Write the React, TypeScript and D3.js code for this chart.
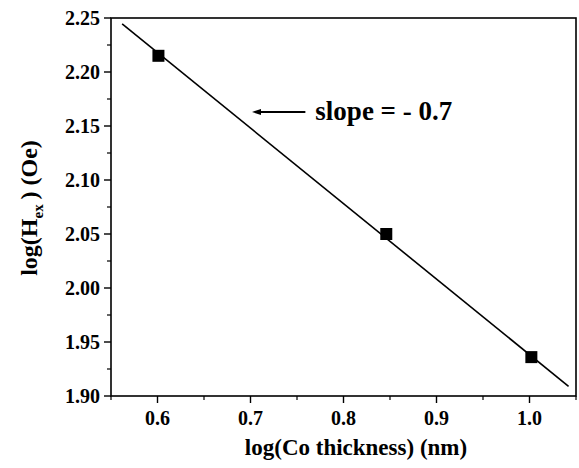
import React from "react";
import * as d3 from "d3";

const xValues = [0.601, 0.846, 1.002];
const yValues = [2.215, 2.05, 1.936];
const fitLine = [
  { x: 0.562, y: 2.2445 },
  { x: 1.042, y: 1.909 },
];
const xTicks = [0.6, 0.7, 0.8, 0.9, 1.0];
const yTicks = [1.9, 1.95, 2.0, 2.05, 2.1, 2.15, 2.2, 2.25];
const xMinor = [0.55, 0.65, 0.75, 0.85, 0.95, 1.05];
const yMinor = [1.925, 1.975, 2.025, 2.075, 2.125, 2.175, 2.225];

const W = 579;
const H = 468;
const M = { left: 111, top: 18, right: 576, bottom: 396 };
const FONT = "Times New Roman, Times, Liberation Serif, DejaVu Serif, serif";

export default function App() {
  const x = d3.scaleLinear().domain([0.55, 1.05]).range([M.left, M.right]);
  const y = d3.scaleLinear().domain([1.9, 2.25]).range([M.bottom, M.top]);
  const line = d3
    .line<{ x: number; y: number }>()
    .x((d) => x(d.x))
    .y((d) => y(d.y));

  const arrowTipX = x(0.7016);
  const arrowTailX = x(0.759);
  const arrowY = y(2.163);
  const sz = 12;
  const ts = { fontFamily: FONT, fontWeight: 700 } as React.CSSProperties;

  return (
    <svg
      width={W}
      height={H}
      style={{ position: "absolute", left: 0, top: 0, background: "#fff", fontFamily: FONT }}
    >
      <rect x={0} y={0} width={W} height={H} fill="#fff" />
      <rect
        x={M.left}
        y={M.top}
        width={M.right - M.left}
        height={M.bottom - M.top}
        fill="none"
        stroke="#000"
        strokeWidth={1.6}
      />
      {xTicks.map((t) => (
        <g key={"xt" + t}>
          <line x1={x(t)} x2={x(t)} y1={M.bottom} y2={M.bottom + 7} stroke="#000" strokeWidth={1.4} />
          <text x={x(t)} y={M.bottom + 29} textAnchor="middle" style={{ ...ts, fontSize: 20 }}>
            {t.toFixed(1)}
          </text>
        </g>
      ))}
      {xMinor.map((t) => (
        <line key={"xm" + t} x1={x(t)} x2={x(t)} y1={M.bottom} y2={M.bottom + 4} stroke="#000" strokeWidth={1.2} />
      ))}
      {yTicks.map((t) => (
        <g key={"yt" + t}>
          <line x1={M.left - 7} x2={M.left} y1={y(t)} y2={y(t)} stroke="#000" strokeWidth={1.4} />
          <text x={M.left - 11} y={y(t) + 7} textAnchor="end" style={{ ...ts, fontSize: 20 }}>
            {t.toFixed(2)}
          </text>
        </g>
      ))}
      {yMinor.map((t) => (
        <line key={"ym" + t} x1={M.left - 4} x2={M.left} y1={y(t)} y2={y(t)} stroke="#000" strokeWidth={1.2} />
      ))}
      <path d={line(fitLine) || ""} fill="none" stroke="#000" strokeWidth={1.6} />
      {xValues.map((v, i) => (
        <rect
          key={"p" + i}
          x={x(v) - sz / 2}
          y={y(yValues[i]) - sz / 2}
          width={sz}
          height={sz}
          fill="#000"
        />
      ))}
      <line x1={arrowTipX + 6} x2={arrowTailX} y1={arrowY} y2={arrowY} stroke="#000" strokeWidth={2} />
      <path
        d={`M${arrowTipX},${arrowY} L${arrowTipX + 9},${arrowY - 3} L${arrowTipX + 9},${arrowY + 3} Z`}
        fill="#000"
      />
      <text x={arrowTailX + 10} y={arrowY + 8} style={{ ...ts, fontSize: 27 }}>
        slope = - 0.7
      </text>
      <text x={356} y={455} textAnchor="middle" style={{ ...ts, fontSize: 23 }}>
        log(Co thickness) (nm)
      </text>
      <text
        transform={`translate(37, 208) rotate(-90)`}
        textAnchor="middle"
        style={{ ...ts, fontSize: 24 }}
      >
        log(H
        <tspan style={{ fontSize: 15 }} dy={6}>ex</tspan>
        <tspan dy={-6}>{"\u2009"}) (Oe)</tspan>
      </text>
    </svg>
  );
}
